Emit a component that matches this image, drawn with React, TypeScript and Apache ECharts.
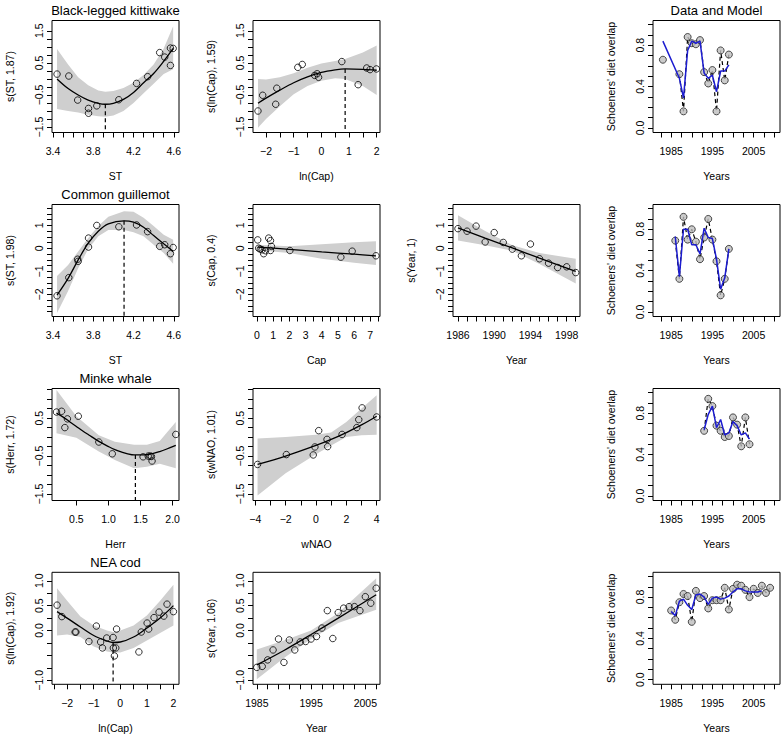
import React, { useEffect, useRef } from "react";
import * as echarts from "echarts";

const FONT = '"Liberation Sans", Arial, Helvetica, sans-serif';

// ---------- Black-legged kittiwake : s(ST, 1.87)
const kST_px = [3.44, 3.557, 3.645, 3.753, 3.753, 3.835, 4.054, 4.23, 4.34, 4.46, 4.51, 4.567, 4.594, 4.567];
const kST_py = [0.15, 0.09, -0.66, -0.92, -1.07, -0.84, -0.65, -0.14, 0.07, 0.82, 0.68, 0.96, 0.95, 0.42];
const kST_fx = [3.44, 3.55, 3.65, 3.75, 3.85, 3.92, 4.0, 4.1, 4.2, 4.3, 4.4, 4.5, 4.594];
const kST_fy = [0.0, -0.3, -0.5, -0.66, -0.76, -0.79, -0.76, -0.64, -0.42, -0.12, 0.17, 0.55, 0.95];
const kST_up = [0.93, 0.45, 0.05, -0.2, -0.36, -0.4, -0.38, -0.28, -0.12, 0.12, 0.45, 0.95, 1.64];
const kST_lo = [-0.94, -1.0, -1.05, -1.12, -1.16, -1.18, -1.14, -1.0, -0.75, -0.45, -0.15, 0.15, 0.3];
const kST_opt = [3.92, -0.79];

// ---------- Black-legged kittiwake : s(ln(Cap), 1.59)
const kCap_px = [-2.29, -2.12, -1.61, -1.65, -0.85, -0.69, -0.24, -0.15, -0.1, 0.74, 1.33, 1.64, 1.76, 1.99];
const kCap_py = [-1.0, -0.51, -0.29, -0.79, 0.36, 0.45, 0.11, 0.16, 0.05, 0.54, -0.18, 0.34, 0.29, 0.31];
const kCap_fx = [-2.29, -2, -1.5, -1, -0.5, 0, 0.5, 0.86, 1.5, 2];
const kCap_fy = [-0.76, -0.6, -0.35, -0.12, 0.06, 0.2, 0.28, 0.31, 0.3, 0.27];
const kCap_up = [0.0, -0.02, 0.05, 0.18, 0.35, 0.48, 0.56, 0.62, 0.82, 1.04];
const kCap_lo = [-1.52, -1.25, -0.85, -0.48, -0.22, -0.06, 0.02, 0.0, -0.22, -0.5];
const kCap_opt = [0.86, 0.31];

// ---------- Kittiwake diet overlap: data and model
const dm1_years = [1983, 1984, 1985, 1986, 1987, 1988, 1989, 1990, 1991, 1992, 1993, 1994, 1995, 1996, 1997, 1998, 1999];
const dm1_obs = [0.66, null, null, null, 0.52, 0.16, 0.88, 0.82, 0.81, 0.85, 0.54, 0.43, 0.56, 0.16, 0.75, 0.46, 0.71];
const dm1_fit = [0.84, null, null, null, 0.48, 0.29, 0.75, 0.84, 0.82, 0.84, 0.53, 0.48, 0.51, 0.35, 0.55, 0.55, 0.61];

// ---------- Common guillemot : s(ST, 1.98)
const gST_px = [3.44, 3.557, 3.645, 3.65, 3.753, 3.753, 3.835, 4.054, 4.23, 4.34, 4.46, 4.51, 4.567, 4.594];
const gST_py = [-2.06, -1.27, -0.47, -0.56, 0.45, 0.06, 1.0, 0.94, 1.02, 0.73, 0.09, 0.16, -0.23, 0.04];
const gST_fx = [3.44, 3.55, 3.65, 3.75, 3.85, 3.95, 4.106, 4.2, 4.3, 4.4, 4.5, 4.594];
const gST_fy = [-2.03, -1.3, -0.5, 0.23, 0.75, 1.07, 1.2, 1.14, 0.92, 0.56, 0.2, -0.13];
const gST_up = [-1.2, -0.72, -0.13, 0.45, 0.97, 1.38, 1.62, 1.6, 1.33, 0.97, 0.6, 0.38];
const gST_lo = [-2.81, -1.85, -0.86, -0.02, 0.53, 0.8, 0.8, 0.7, 0.53, 0.16, -0.2, -0.67];
const gST_opt = [4.106, 1.2];

// ---------- Common guillemot : s(Cap, 0.4)
const gCap_px = [0.04, 0.1, 0.2, 0.31, 0.41, 0.52, 0.72, 0.83, 0.83, 0.89, 2.03, 5.18, 5.88, 7.35];
const gCap_py = [0.37, 0.01, -0.03, -0.06, -0.23, -0.1, 0.45, 0.34, -0.09, 0.09, -0.09, -0.38, -0.12, -0.32];
const gCap_fx = [0.04, 2, 4, 6, 7.35];
const gCap_fy = [0.06, -0.04, -0.15, -0.25, -0.32];
const gCap_up = [0.16, 0.1, 0.18, 0.27, 0.31];
const gCap_lo = [-0.08, -0.2, -0.45, -0.62, -0.72];

// ---------- Common guillemot : s(Year, 1)
const gYr_px = [1986, 1987, 1988, 1989, 1990, 1991, 1992, 1993, 1994, 1995, 1996, 1997, 1998, 1999];
const gYr_py = [0.86, 0.75, 0.97, 0.28, 0.69, 0.26, -0.03, -0.32, 0.19, -0.45, -0.64, -0.83, -0.8, -1.05];
const gYr_fx = [1986, 1989, 1992, 1995, 1999];
const gYr_fy = [0.89, 0.45, 0.02, -0.42, -1.0];
const gYr_up = [1.44, 0.76, 0.14, -0.2, -0.45];
const gYr_lo = [0.34, 0.14, -0.1, -0.68, -1.52];

// ---------- Guillemot diet overlap
const dm2_years = [1986, 1987, 1988, 1989, 1990, 1991, 1992, 1993, 1994, 1995, 1996, 1997, 1998, 1999];
const dm2_obs = [0.69, 0.32, 0.92, 0.7, 0.8, 0.68, 0.51, 0.72, 0.9, 0.7, 0.49, 0.16, 0.32, 0.61];
const dm2_fit = [0.73, 0.34, 0.8, 0.8, 0.65, 0.65, 0.56, 0.81, 0.72, 0.71, 0.51, 0.22, 0.33, 0.61];

// ---------- Minke whale : s(Herr, 1.72)
const mH_px = [0.19, 0.27, 0.36, 0.32, 0.53, 0.85, 1.06, 1.54, 1.62, 1.65, 1.67, 1.68, 2.05];
const mH_py = [0.66, 0.68, 0.48, 0.25, 0.55, -0.13, -0.44, -0.52, -0.5, -0.5, -0.51, -0.63, 0.07];
const mH_fx = [0.19, 0.3, 0.4, 0.5, 0.6, 0.7, 0.8, 0.9, 1.0, 1.1, 1.2, 1.3, 1.4, 1.5, 1.6, 1.7, 1.8, 1.9, 2.05];
const mH_fy = [0.63, 0.52, 0.4, 0.28, 0.16, 0.05, -0.06, -0.16, -0.25, -0.33, -0.39, -0.44, -0.47, -0.47, -0.46, -0.43, -0.38, -0.32, -0.22];
const mH_bx = [0.19, 0.5, 0.85, 1.1, 1.4, 1.6, 1.8, 2.05];
const mH_up = [1.24, 0.55, 0.05, -0.12, -0.2, -0.2, -0.1, 0.4];
const mH_lo = [0.1, -0.02, -0.38, -0.6, -0.82, -0.78, -0.7, -0.82];
const mH_opt = [1.42, -0.47];

// ---------- Minke whale : s(wNAO, 1.01)
const mN_px = [-3.85, -1.95, -0.18, -0.07, 0.18, 0.73, 0.77, 1.72, 2.69, 2.82, 3.04, 4.0];
const mN_py = [-0.72, -0.46, -0.47, -0.26, 0.17, -0.06, -0.25, 0.07, 0.25, 0.46, 0.77, 0.53];
const mN_fx = [-3.85, -2, 0, 1, 2, 3, 4];
const mN_fy = [-0.72, -0.5, -0.22, -0.06, 0.12, 0.32, 0.55];
const mN_up = [-0.04, 0.0, 0.06, 0.12, 0.4, 0.75, 1.1];
const mN_lo = [-1.54, -0.95, -0.45, -0.22, 0.0, 0.05, 0.06];

// ---------- Minke diet overlap
const dm3_years = [1993, 1994, 1995, 1996, 1997, 1998, 1999, 2000, 2001, 2002, 2003, 2004];
const dm3_obs = [0.63, 0.94, 0.87, 0.68, 0.63, 0.57, 0.58, 0.76, 0.69, 0.48, 0.76, 0.5];
const dm3_fit = [0.64, 0.79, 0.87, 0.66, 0.74, 0.59, 0.61, 0.72, 0.68, 0.59, 0.61, 0.55];

// ---------- NEA cod : s(ln(Cap), 1.92)
const cCap_px = [-2.38, -2.2, -1.7, -1.67, -1.18, -0.9, -0.74, -0.67, -0.51, -0.27, -0.26, -0.17, -0.22, -0.14, 0.7, 0.79, 1.01, 1.07, 1.27, 1.46, 1.64, 1.76, 2.0];
const cCap_py = [0.51, 0.28, -0.03, -0.03, -0.22, 0.09, -0.23, -0.35, -0.15, -0.14, -0.35, -0.35, -0.51, 0.03, -0.43, -0.03, 0.15, 0.03, 0.26, 0.37, 0.29, 0.53, 0.38];
const cCap_fx = [-2.38, -2, -1.5, -1, -0.5, -0.27, 0, 0.5, 1, 1.5, 2];
const cCap_fy = [0.38, 0.25, 0.07, -0.1, -0.21, -0.24, -0.23, -0.13, 0.05, 0.25, 0.5];
const cCap_up = [0.85, 0.6, 0.28, 0.1, 0.0, -0.03, 0.0, 0.1, 0.3, 0.6, 0.92];
const cCap_lo = [-0.1, -0.08, -0.13, -0.32, -0.42, -0.44, -0.44, -0.35, -0.2, -0.05, 0.1];
const cCap_opt = [-0.27, -0.24];

// ---------- NEA cod : s(Year, 1.06)
const cYr_px = [1985, 1986, 1987, 1988, 1989, 1990, 1991, 1992, 1993, 1994, 1995, 1996, 1997, 1998, 1999, 2000, 2001, 2002, 2003, 2004, 2005, 2006, 2007];
const cYr_py = [-0.74, -0.72, -0.59, -0.39, -0.17, -0.64, -0.19, -0.39, -0.23, -0.22, -0.17, -0.12, 0.05, 0.4, -0.16, 0.36, 0.45, 0.48, 0.48, 0.4, 0.68, 0.55, 0.85];
const cYr_fx = [1985, 1990, 1995, 2000, 2007];
const cYr_fy = [-0.69, -0.4, -0.08, 0.25, 0.72];
const cYr_up = [-0.38, -0.2, 0.0, 0.35, 1.05];
const cYr_lo = [-0.98, -0.55, -0.17, 0.15, 0.42];

// ---------- Cod diet overlap
const dm4_years = [1985, 1986, 1987, 1988, 1989, 1990, 1991, 1992, 1993, 1994, 1995, 1996, 1997, 1998, 1999, 2000, 2001, 2002, 2003, 2004, 2005, 2006, 2007, 2008, 2009];
const dm4_obs = [0.67, 0.58, 0.75, 0.83, 0.81, 0.56, 0.86, 0.79, 0.81, 0.69, 0.77, 0.77, 0.77, 0.89, 0.68, 0.88, 0.92, 0.91, 0.87, 0.8, 0.88, 0.84, 0.91, 0.84, 0.89];
const dm4_fit = [0.66, 0.62, 0.76, 0.78, 0.72, 0.68, 0.82, 0.83, 0.8, 0.73, 0.79, 0.8, 0.78, 0.79, 0.81, 0.85, 0.88, 0.88, 0.86, 0.85, 0.85, 0.85, 0.86, null, null];

// ---------- tick values and tick labels
const tST = [3.4, 3.5, 3.6, 3.7, 3.8, 3.9, 4.0, 4.1, 4.2, 4.3, 4.4, 4.5, 4.6];
const lST = [3.4, 3.8, 4.2, 4.6];
const tLnCap1 = [-2, -1.5, -1, -0.5, 0, 0.5, 1, 1.5, 2];
const lLnCap = [-2, -1, 0, 1, 2];
const tLnCap2 = [-2.5, -2, -1.5, -1, -0.5, 0, 0.5, 1, 1.5, 2];
const tCap = [0, 0.5, 1, 1.5, 2, 2.5, 3, 3.5, 4, 4.5, 5, 5.5, 6, 6.5, 7, 7.5];
const lCap = [0, 1, 2, 3, 4, 5, 6, 7];
const tYear1 = [1986, 1987, 1988, 1989, 1990, 1991, 1992, 1993, 1994, 1995, 1996, 1997, 1998, 1999];
const lYear1 = [1986, 1990, 1994, 1998];
const tYear2 = [1985, 1987, 1989, 1991, 1993, 1995, 1997, 1999, 2001, 2003, 2005, 2007];
const lYear2 = [1985, 1995, 2005];
const tHerr = [0.5, 1.0, 1.5, 2.0];
const tNAO = [-4, -3, -2, -1, 0, 1, 2, 3, 4];
const lNAO = [-4, -2, 0, 2, 4];
const tYears = [1982.5, 1985, 1987.5, 1990, 1992.5, 1995, 1997.5, 2000, 2002.5, 2005, 2007.5, 2010];
const lYears = [1985, 1995, 2005];
const tY1 = [-1.5, -1.25, -1, -0.75, -0.5, -0.25, 0, 0.25, 0.5, 0.75, 1, 1.25, 1.5];
const lY1 = [-1.5, -0.5, 0.5, 1.5];
const tY2 = [-2.75, -2.5, -2.25, -2, -1.75, -1.5, -1.25, -1, -0.75, -0.5, -0.25, 0, 0.25, 0.5, 0.75, 1, 1.25, 1.5, 1.75];
const lY2 = [-2, -1, 0, 1];
const tY3 = [-1.5, -1.25, -1, -0.75, -0.5, -0.25, 0, 0.25, 0.5, 0.75, 1, 1.25];
const lY3 = [-1.5, -0.5, 0.5];
const tY4 = [-1, -0.75, -0.5, -0.25, 0, 0.25, 0.5, 0.75, 1];
const lY4 = [-1, 0, 0.5, 1];
const tDM = [0, 0.1, 0.2, 0.3, 0.4, 0.5, 0.6, 0.7, 0.8, 0.9, 1.0];
const lDM = [0, 0.4, 0.8];

// ---------- layout
const COL_L = [52, 253, 453, 653];
const BOX_W = 127;
const ROW_T = [20.5, 204.5, 388.5, 572.3];
const BOX_H = 112;

const fmt = (dec: number) => (v: number) => (v < 0 ? "\u2212" : "") + Math.abs(v).toFixed(dec);

type Panel = {
  row: number; col: number; title?: string; xName: string; yName: string;
  xr: number[]; yr: number[]; xt: number[]; xl: number[]; xd: number; yt: number[]; yl: number[]; yd: number;
  sm?: { px: number[]; py: number[]; fx: number[]; fy: number[]; bx: number[]; up: number[]; lo: number[]; opt?: number[] };
  dm?: { years: number[]; obs: (number | null)[]; fit: (number | null)[] };
};

const YR_DM = [-0.045, 1.04];
const XR_DM = [1980.6, 2011.4];

const panels: Panel[] = [
  { row: 0, col: 0, title: "Black-legged kittiwake", xName: "ST", yName: "s(ST, 1.87)", xr: [3.39, 4.652], yr: [-1.67, 1.82], xt: tST, xl: lST, xd: 1, yt: tY1, yl: lY1, yd: 1,
    sm: { px: kST_px, py: kST_py, fx: kST_fx, fy: kST_fy, bx: kST_fx, up: kST_up, lo: kST_lo, opt: kST_opt } },
  { row: 0, col: 1, xName: "ln(Cap)", yName: "s(ln(Cap), 1.59)", xr: [-2.47, 2.12], yr: [-1.67, 1.82], xt: tLnCap1, xl: lLnCap, xd: 0, yt: tY1, yl: lY1, yd: 1,
    sm: { px: kCap_px, py: kCap_py, fx: kCap_fx, fy: kCap_fy, bx: kCap_fx, up: kCap_up, lo: kCap_lo, opt: kCap_opt } },
  { row: 0, col: 3, title: "Data and Model", xName: "Years", yName: "Schoeners' diet overlap", xr: XR_DM, yr: YR_DM, xt: tYears, xl: lYears, xd: 0, yt: tDM, yl: lDM, yd: 1,
    dm: { years: dm1_years, obs: dm1_obs, fit: dm1_fit } },
  { row: 1, col: 0, title: "Common guillemot", xName: "ST", yName: "s(ST, 1.98)", xr: [3.39, 4.652], yr: [-2.96, 1.91], xt: tST, xl: lST, xd: 1, yt: tY2, yl: lY2, yd: 0,
    sm: { px: gST_px, py: gST_py, fx: gST_fx, fy: gST_fy, bx: gST_fx, up: gST_up, lo: gST_lo, opt: gST_opt } },
  { row: 1, col: 1, xName: "Cap", yName: "s(Cap, 0.4)", xr: [-0.25, 7.6], yr: [-2.96, 1.91], xt: tCap, xl: lCap, xd: 0, yt: tY2, yl: lY2, yd: 0,
    sm: { px: gCap_px, py: gCap_py, fx: gCap_fx, fy: gCap_fy, bx: gCap_fx, up: gCap_up, lo: gCap_lo } },
  { row: 1, col: 2, xName: "Year", yName: "s(Year, 1)", xr: [1985.45, 1999.47], yr: [-2.96, 1.91], xt: tYear1, xl: lYear1, xd: 0, yt: tY2, yl: lY2, yd: 0,
    sm: { px: gYr_px, py: gYr_py, fx: gYr_fx, fy: gYr_fy, bx: gYr_fx, up: gYr_up, lo: gYr_lo } },
  { row: 1, col: 3, xName: "Years", yName: "Schoeners' diet overlap", xr: XR_DM, yr: YR_DM, xt: tYears, xl: lYears, xd: 0, yt: tDM, yl: lDM, yd: 1,
    dm: { years: dm2_years, obs: dm2_obs, fit: dm2_fit } },
  { row: 2, col: 0, title: "Minke whale", xName: "Herr", yName: "s(Herr, 1.72)", xr: [0.12, 2.1], yr: [-1.67, 1.28], xt: tHerr, xl: tHerr, xd: 1, yt: tY3, yl: lY3, yd: 1,
    sm: { px: mH_px, py: mH_py, fx: mH_fx, fy: mH_fy, bx: mH_bx, up: mH_up, lo: mH_lo, opt: mH_opt } },
  { row: 2, col: 1, xName: "wNAO", yName: "s(wNAO, 1.01)", xr: [-4.15, 4.22], yr: [-1.67, 1.28], xt: tNAO, xl: lNAO, xd: 0, yt: tY3, yl: lY3, yd: 1,
    sm: { px: mN_px, py: mN_py, fx: mN_fx, fy: mN_fy, bx: mN_fx, up: mN_up, lo: mN_lo } },
  { row: 2, col: 3, xName: "Years", yName: "Schoeners' diet overlap", xr: XR_DM, yr: YR_DM, xt: tYears, xl: lYears, xd: 0, yt: tDM, yl: lDM, yd: 1,
    dm: { years: dm3_years, obs: dm3_obs, fit: dm3_fit } },
  { row: 3, col: 0, title: "NEA cod", xName: "ln(Cap)", yName: "s(ln(Cap), 1.92)", xr: [-2.57, 2.21], yr: [-1.08, 1.17], xt: tLnCap2, xl: lLnCap, xd: 0, yt: tY4, yl: lY4, yd: 1,
    sm: { px: cCap_px, py: cCap_py, fx: cCap_fx, fy: cCap_fy, bx: cCap_fx, up: cCap_up, lo: cCap_lo, opt: cCap_opt } },
  { row: 3, col: 1, xName: "Year", yName: "s(Year, 1.06)", xr: [1984.3, 2007.7], yr: [-1.08, 1.17], xt: tYear2, xl: lYear2, xd: 0, yt: tY4, yl: lY4, yd: 1,
    sm: { px: cYr_px, py: cYr_py, fx: cYr_fx, fy: cYr_fy, bx: cYr_fx, up: cYr_up, lo: cYr_lo } },
  { row: 3, col: 3, xName: "Years", yName: "Schoeners' diet overlap", xr: XR_DM, yr: YR_DM, xt: tYears, xl: lYears, xd: 0, yt: tDM, yl: lDM, yd: 1,
    dm: { years: dm4_years, obs: dm4_obs, fit: dm4_fit } },
];

function buildOption() {
  const grid: any[] = [];
  const xAxis: any[] = [];
  const yAxis: any[] = [];
  const series: any[] = [];
  const graphic: any[] = [];
  const axisText = { color: "#000", fontSize: 10.5, fontFamily: FONT };

  panels.forEach((p, i) => {
    const left = COL_L[p.col];
    const top = ROW_T[p.row];
    grid.push({ left, top, width: BOX_W, height: BOX_H, show: true, borderColor: "#000", borderWidth: 1, backgroundColor: "transparent" });
    xAxis.push({
      type: "value", gridIndex: i, min: p.xr[0], max: p.xr[1], position: "bottom",
      axisLine: { show: false, onZero: false }, splitLine: { show: false },
      axisTick: { show: true, length: 5, customValues: p.xt, lineStyle: { color: "#000", width: 1 } },
      axisLabel: { customValues: p.xl, formatter: fmt(p.xd), margin: 13, ...axisText },
      name: p.xName, nameLocation: "middle", nameGap: 38, nameTextStyle: { ...axisText },
    });
    yAxis.push({
      type: "value", gridIndex: i, min: p.yr[0], max: p.yr[1], position: "left",
      axisLine: { show: false, onZero: false }, splitLine: { show: false },
      axisTick: { show: true, length: 5, customValues: p.yt, lineStyle: { color: "#000", width: 1 } },
      axisLabel: { customValues: p.yl, formatter: fmt(p.yd), rotate: 90, margin: 8, ...axisText },
      name: p.yName, nameLocation: "middle", nameGap: 37, nameTextStyle: { ...axisText },
    });
    if (p.title) {
      graphic.push({ type: "text", x: left + BOX_W / 2, y: top - 10, style: { text: p.title, fill: "#000", font: `13px ${FONT}`, textAlign: "center", textVerticalAlign: "middle" } });
    }
    if (p.sm) {
      const s = p.sm;
      series.push({
        type: "custom", xAxisIndex: i, yAxisIndex: i, silent: true, z: 1, clip: true,
        data: [[s.bx[0], s.up[0]]],
        renderItem: (_params: any, api: any) => {
          const pts: number[][] = [];
          for (let k = 0; k < s.bx.length; k++) pts.push(api.coord([s.bx[k], s.up[k]]));
          for (let k = s.bx.length - 1; k >= 0; k--) pts.push(api.coord([s.bx[k], s.lo[k]]));
          return { type: "polygon", shape: { points: pts }, style: { fill: "#cfcfcf", stroke: null } };
        },
      });
      series.push({
        type: "line", xAxisIndex: i, yAxisIndex: i, z: 3, symbol: "none", smooth: 0.35,
        data: s.fx.map((x, k) => [x, s.fy[k]]), lineStyle: { color: "#000", width: 1.3 },
      });
      if (s.opt) {
        series.push({
          type: "line", xAxisIndex: i, yAxisIndex: i, z: 3, symbol: "none",
          data: [[s.opt[0], s.opt[1]], [s.opt[0], p.yr[0]]], lineStyle: { color: "#000", width: 1.2, type: [4, 3] },
        });
      }
      series.push({
        type: "scatter", xAxisIndex: i, yAxisIndex: i, z: 4, symbol: "circle", symbolSize: 6.5,
        data: s.px.map((x, k) => [x, s.py[k]]),
        itemStyle: { color: "rgba(255,255,255,0)", borderColor: "#000", borderWidth: 1 },
      });
    }
    if (p.dm) {
      const d = p.dm;
      series.push({
        type: "line", xAxisIndex: i, yAxisIndex: i, z: 2, symbol: "none", connectNulls: false,
        data: d.years.map((y, k) => [y, d.obs[k] == null ? "-" : d.obs[k]]), lineStyle: { color: "#000", width: 1.2, type: [4, 3] },
      });
      series.push({
        type: "scatter", xAxisIndex: i, yAxisIndex: i, z: 3, symbol: "circle", symbolSize: 7,
        data: d.years.map((y, k) => [y, d.obs[k]]).filter((v) => v[1] != null),
        itemStyle: { color: "#bebebe", borderColor: "#222", borderWidth: 1 },
      });
      series.push({
        type: "line", xAxisIndex: i, yAxisIndex: i, z: 4, symbol: "none",
        data: d.years.map((y, k) => [y, d.fit[k]]).filter((v) => v[1] != null), lineStyle: { color: "#1c1cd0", width: 1.5 },
      });
    }
  });

  return { animation: false, backgroundColor: "#fff", textStyle: { fontFamily: FONT }, grid, xAxis, yAxis, series, graphic };
}

export default function App() {
  const ref = useRef<HTMLDivElement>(null);
  useEffect(() => {
    const chart = echarts.init(ref.current as HTMLDivElement, null, { renderer: "svg", width: 784, height: 735 });
    chart.setOption(buildOption() as any);
    return () => chart.dispose();
  }, []);
  return <div ref={ref} style={{ position: "fixed", left: 0, top: 0, width: 784, height: 735, background: "#fff" }} />;
}
